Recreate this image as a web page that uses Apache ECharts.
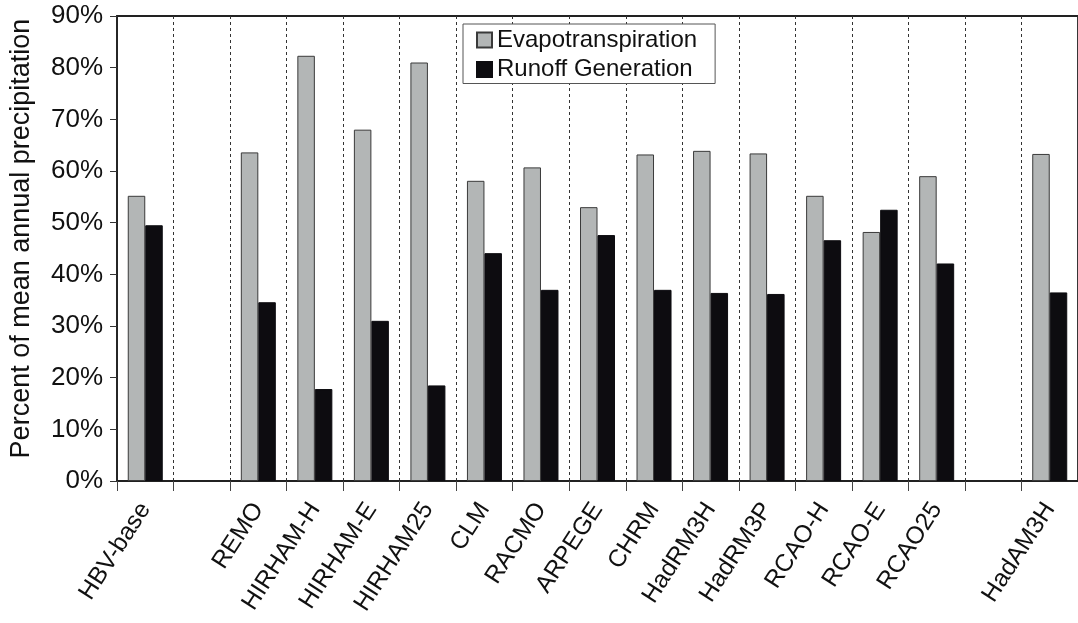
<!DOCTYPE html>
<html>
<head>
<meta charset="utf-8">
<script src="https://cdn.jsdelivr.net/npm/echarts@6/dist/echarts.min.js"></script>
<style>
html,body{margin:0;padding:0;background:#fff;}
#chart{width:1078px;height:623px;}
</style>
</head>
<body>
<div id="chart"></div>
<script>
var categories = ['HBV-base', ' ', 'REMO', 'HIRHAM-H', 'HIRHAM-E', 'HIRHAM25', 'CLM', 'RACMO', 'ARPEGE', 'CHRM', 'HadRM3H', 'HadRM3P', 'RCAO-H', 'RCAO-E', 'RCAO25', '  ', 'HadAM3H'];
var evapotranspiration = [55.2, null, 63.6, 82.3, 68.0, 81.0, 58.1, 60.7, 53.0, 63.2, 63.9, 63.4, 55.2, 48.2, 59.0, null, 63.3];
var runoffGeneration = [49.5, null, 34.6, 17.8, 31.0, 18.5, 44.1, 37.0, 47.6, 37.0, 36.4, 36.2, 46.6, 52.5, 42.1, null, 36.5];
var yTicks = [0, 10, 20, 30, 40, 50, 60, 70, 80, 90];

var FONT = '"Liberation Sans", Arial, Helvetica, sans-serif';
var chart = echarts.init(document.getElementById('chart'), null, {renderer: 'canvas'});
chart.setOption({
  animation: false,
  backgroundColor: '#ffffff',
  textStyle: {fontFamily: FONT},
  grid: {left: 117, top: 16, width: 966, height: 465, show: true, borderColor: '#222', borderWidth: 1.8, backgroundColor: 'transparent'},
  legend: {
    orient: 'vertical', left: 463, top: 24,
    itemWidth: 15, itemHeight: 15, itemGap: 5.5,
    icon: 'rect',
    padding: [4, 18, 2, 13],
    borderColor: '#555', borderWidth: 1, backgroundColor: '#fff',
    textStyle: {fontSize: 24, color: '#111', fontFamily: FONT, lineHeight: 24},
    data: ['Evapotranspiration', 'Runoff Generation']
  },
  xAxis: {
    type: 'category',
    data: categories,
    boundaryGap: true,
    axisLine: {show: true, lineStyle: {color: '#222', width: 1.5}},
    axisTick: {show: true, interval: 0, length: 10, alignWithLabel: false, lineStyle: {color: '#444', width: 1}},
    axisLabel: {interval: 0, rotate: 57, margin: 24, fontSize: 24.5, color: '#111', fontFamily: FONT, padding: [30, 0, 0, 0]},
    splitLine: {show: true, interval: 0, lineStyle: {type: [3, 3], color: '#333', width: 1}}
  },
  yAxis: {
    type: 'value',
    min: yTicks[0], max: yTicks[yTicks.length - 1], interval: 10,
    name: 'Percent of mean annual precipitation',
    nameLocation: 'middle', nameGap: 82,
    nameTextStyle: {fontSize: 27, color: '#111', fontFamily: FONT, padding: [0, 0, 0, 20]},
    axisLine: {show: true, lineStyle: {color: '#222', width: 1.5}},
    axisTick: {show: true, length: 7, lineStyle: {color: '#333'}},
    axisLabel: {formatter: '{value}%', fontSize: 26, margin: 14, color: '#111', fontFamily: FONT},
    splitLine: {show: false}
  },
  series: [
    {
      name: 'Evapotranspiration', type: 'bar', data: evapotranspiration,
      barWidth: 17.5, barGap: '0%',
      itemStyle: {color: '#b3b6b6', borderColor: '#3a3a3a', borderWidth: 1}
    },
    {
      name: 'Runoff Generation', type: 'bar', data: runoffGeneration,
      barWidth: 17.5, barGap: '0%',
      itemStyle: {color: '#0d0c10', borderColor: '#0d0c10', borderWidth: 1}
    }
  ]
});
</script>
</body>
</html>
